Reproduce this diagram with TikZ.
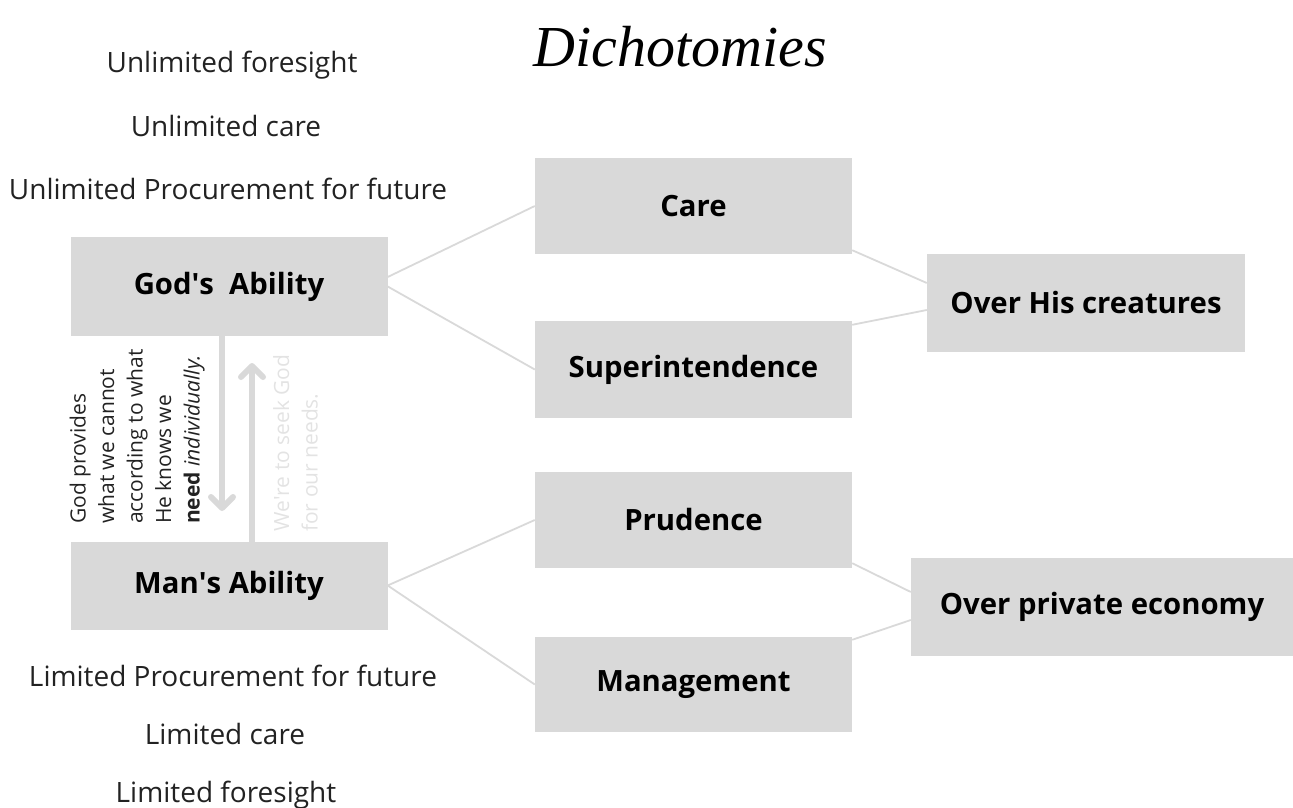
\documentclass[tikz,border=0pt]{standalone}
\usepackage{fontspec}
\setmainfont{Open Sans}
\newfontfamily\titlefont{Liberation Serif}
\usetikzlibrary{arrows.meta,positioning}
\definecolor{mgray}{HTML}{D9D9D9}
\definecolor{mtext}{HTML}{222222}
\definecolor{mfaint}{HTML}{E3E3E3}
\tikzstyle{l1}=[line width=1.8pt, draw=mgray]
\tikzstyle{l2}=[line width=6pt, draw=mgray, line cap=round, -{Straight Barb[length=11pt,width=22pt,round]}]
\tikzstyle{box}=[rectangle, fill=mgray, minimum width=317pt, minimum height=96pt, inner sep=0pt, font=\bfseries\fontsize{29.3}{34}\selectfont]
\tikzstyle{txt}=[text=mtext, inner sep=0pt, font=\fontsize{28}{32}\selectfont]
\tikzstyle{side}=[rotate=90, anchor=south west, align=left, inner sep=0pt, font=\fontsize{21}{28.5}\selectfont]

\begin{document}
\begin{tikzpicture}[x=1pt, y=-1pt]
    \useasboundingbox (0,0) rectangle (1293,808);
    \node at (680,47) (title) {\titlefont\itshape\fontsize{58}{60}\selectfont Dichotomies};

    % left column
    \node[box, minimum height=99pt] at (229,286.5) (god) {God\textquotesingle s~ Ability};
    \node[box, minimum height=88pt] at (229,585.5) (man) {Man\textquotesingle s Ability};
    \node[txt, anchor=base] at (232,73) (uf) {Unlimited foresight};
    \node[txt, anchor=base] at (226,136) (uc) {Unlimited care};
    \node[txt, anchor=base] at (228,199) (up) {Unlimited Procurement for future};
    \node[txt, anchor=base] at (233,686) (lp) {Limited Procurement for future};
    \node[txt, anchor=base] at (225,744) (lc) {Limited care};
    \node[txt, anchor=base] at (226,802) (lf) {Limited foresight};

    % middle and right columns
    \node[box] at (693.5,206) (care) {Care};
    \node[box, minimum height=97pt] at (693.5,369.5) (super) {Superintendence};
    \node[box] at (693.5,520) (prud) {Prudence};
    \node[box, minimum height=95pt] at (693.5,684.5) (manage) {Management};
    \node[box, minimum width=318pt, minimum height=98pt] at (1086,303) (overhis) {Over His creatures};
    \node[box, minimum width=382pt, minimum height=98pt] at (1102,607) (overpriv) {Over private economy};

    \draw[l1] ([yshift=9.5pt]god.east) -- (care.west);
    \draw[l1] (god.east) -- (super.west);
    \draw[l1] ([yshift=4pt]care.south east) -- ([yshift=20pt]overhis.west);
    \draw[l1] ([yshift=-4pt]super.north east) -- ([yshift=-7pt]overhis.west);
    \draw[l1] (man.east) -- (prud.west);
    \draw[l1] (man.east) -- (manage.west);
    \draw[l1] ([yshift=5pt]prud.south east) -- ([yshift=15pt]overpriv.west);
    \draw[l1] ([yshift=-3pt]manage.north east) -- ([yshift=-13pt]overpriv.west);

    % arrows between the abilities
    \coordinate (dn) at (222,511);
    \coordinate (upp) at (252,363);
    \draw[l2] (god.south -| dn) -- (dn);
    \draw[l2] (man.north -| upp) -- (upp);
    \node[side, text=mtext] at (205,524) (gives) {God provides\\what we cannot\\according to what\\He knows we\\\textbf{need} \textit{individually.}};
    \node[side, text=mfaint] at (318,532) (seek) {We\textquotesingle re to seek God\\for our needs.};
\end{tikzpicture}
\end{document}
